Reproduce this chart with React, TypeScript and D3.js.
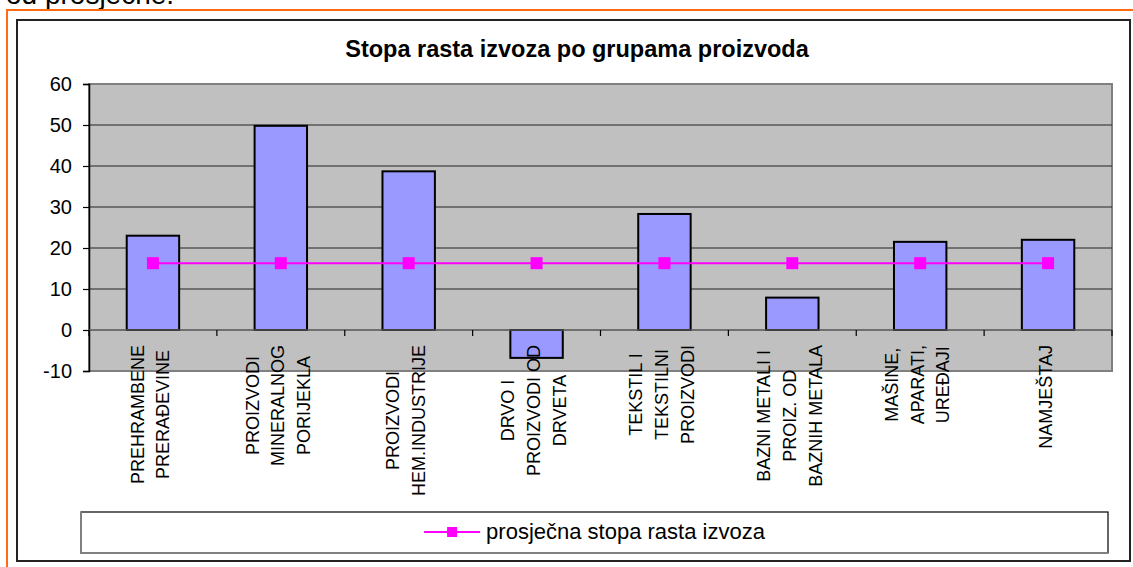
import { useEffect, useRef } from "react";
import * as d3 from "d3";

const categories = [
  ["PREHRAMBENE", "PRERAĐEVINE"],
  ["PROIZVODI", "MINERALNOG", "PORIJEKLA"],
  ["PROIZVODI", "HEM.INDUSTRIJE"],
  ["DRVO I", "PROIZVODI OD", "DRVETA"],
  ["TEKSTIL I", "TEKSTILNI", "PROIZVODI"],
  ["BAZNI METALI I", "PROIZ. OD", "BAZNIH METALA"],
  ["MAŠINE,", "APARATI,", "UREĐAJI"],
  ["NAMJEŠTAJ"],
];
const growth = [23.0, 49.8, 38.7, -6.8, 28.3, 7.9, 21.5, 22.0];
const average = [16.3, 16.3, 16.3, 16.3, 16.3, 16.3, 16.3, 16.3];
const yTicks = [-10, 0, 10, 20, 30, 40, 50, 60];
const title = "Stopa rasta izvoza po grupama proizvoda";
const legendLabel = "prosječna stopa rasta izvoza";

export default function App() {
  const svgRef = useRef(null);

  useEffect(() => {
    const width = 1133;
    const height = 567;
    const plot = { left: 89, right: 1112, top: 84, bottom: 371 };
    const font = "'Liberation Sans', Arial, sans-serif";

    const svg = d3.select(svgRef.current);
    svg.selectAll("*").remove();
    svg.attr("width", width).attr("height", height);

    // page text cut off at the top
    svg.append("text")
      .attr("x", 6).attr("y", 4)
      .attr("font-family", font).attr("font-size", 28)
      .text("od prosječne.");

    // orange document frame
    svg.append("path")
      .attr("d", `M7,${height + 5}V10H${width + 5}`)
      .attr("fill", "none").attr("stroke", "#ff6a13").attr("stroke-width", 2);

    // chart frame
    svg.append("rect")
      .attr("x", 17).attr("y", 20).attr("width", 1113).attr("height", 541)
      .attr("fill", "#fff").attr("stroke", "#222").attr("stroke-width", 2);

    svg.append("text")
      .attr("x", 577).attr("y", 57)
      .attr("text-anchor", "middle")
      .attr("font-family", font).attr("font-size", 23.5).attr("font-weight", "bold")
      .text(title);

    const keys = categories.map((_, i) => String(i));
    const x = d3.scaleBand().domain(keys).range([plot.left, plot.right]).padding(0);
    const y = d3.scaleLinear().domain([-10, 60]).range([plot.bottom, plot.top]);
    const barW = x.bandwidth() * 0.41;
    const cx = (i: number) => x(String(i))! + x.bandwidth() / 2;

    svg.append("rect")
      .attr("x", plot.left).attr("y", plot.top)
      .attr("width", plot.right - plot.left).attr("height", plot.bottom - plot.top)
      .attr("fill", "#c0c0c0").attr("stroke", "#808080").attr("stroke-width", 2);

    svg.append("g")
      .selectAll("line")
      .data(yTicks.filter(t => t !== 0 && t !== 60 && t !== -10))
      .join("line")
      .attr("x1", plot.left).attr("x2", plot.right)
      .attr("y1", d => y(d)).attr("y2", d => y(d))
      .attr("stroke", "#222").attr("stroke-width", 1.2);

    // y axis (plain hyphen for negatives, as in the original)
    const yAxis = svg.append("g").attr("transform", `translate(${plot.left},0)`)
      .call(d3.axisLeft(y).tickValues(yTicks).tickFormat(d => String(d)).tickSize(6).tickPadding(11));
    yAxis.select(".domain").attr("stroke", "#000").attr("stroke-width", 1.5);
    yAxis.selectAll(".tick line").attr("stroke", "#000").attr("stroke-width", 1.2);
    yAxis.selectAll("text")
      .attr("font-family", font).attr("font-size", 20).attr("fill", "#000");

    // bars
    svg.append("g")
      .selectAll("rect")
      .data(growth)
      .join("rect")
      .attr("x", (_, i) => cx(i) - barW / 2)
      .attr("width", barW)
      .attr("y", d => y(Math.max(0, d)))
      .attr("height", d => Math.abs(y(d) - y(0)))
      .attr("fill", "#9999ff").attr("stroke", "#000").attr("stroke-width", 2);

    // category axis at zero
    svg.append("line")
      .attr("x1", plot.left).attr("x2", plot.right)
      .attr("y1", y(0)).attr("y2", y(0))
      .attr("stroke", "#555").attr("stroke-width", 1.5);
    svg.append("g")
      .selectAll("line")
      .data(d3.range(categories.length + 1))
      .join("line")
      .attr("x1", i => plot.left + i * x.step()).attr("x2", i => plot.left + i * x.step())
      .attr("y1", y(0)).attr("y2", y(0) + 6)
      .attr("stroke", "#000").attr("stroke-width", 1.2);

    // rotated category labels
    const labels = svg.append("g")
      .selectAll("g")
      .data(categories)
      .join("g")
      .attr("transform", (_, i) => `translate(${cx(i) - 3},345) rotate(-90)`);
    labels.each(function (lines) {
      const g = d3.select(this);
      const n = lines.length;
      const texts = g.selectAll("text")
        .data(lines)
        .join("text")
        .attr("y", (_, j) => (j - (n - 1) / 2) * 25.7 + 6.5)
        .attr("text-anchor", "middle")
        .attr("font-family", font).attr("font-size", 18)
        .text(d => d);
      let maxLen = 0;
      texts.each(function () {
        maxLen = Math.max(maxLen, (this as SVGTextElement).getComputedTextLength());
      });
      texts.attr("x", -maxLen / 2);
    });

    // average line
    const line = d3.line<number>()
      .x((_, i) => cx(i))
      .y(d => y(d));
    svg.append("path")
      .datum(average)
      .attr("fill", "none").attr("stroke", "#ff00ff").attr("stroke-width", 2)
      .attr("d", line);
    svg.append("g")
      .selectAll("rect")
      .data(average)
      .join("rect")
      .attr("x", (_, i) => cx(i) - 6).attr("y", d => y(d) - 6)
      .attr("width", 12).attr("height", 12)
      .attr("fill", "#ff00ff");

    // legend
    const lg = svg.append("g");
    lg.append("rect")
      .attr("x", 81).attr("y", 512).attr("width", 1027).attr("height", 41)
      .attr("fill", "#fff").attr("stroke", "#000").attr("stroke-width", 1.2);
    lg.append("path")
      .attr("d", "M81,512V553H1108")
      .attr("fill", "none").attr("stroke", "#808080").attr("stroke-width", 2);
    const lt = lg.append("text")
      .attr("y", 539)
      .attr("font-family", font).attr("font-size", 22)
      .text(legendLabel);
    const tLen = (lt.node() as SVGTextElement).getComputedTextLength();
    const start = (81 + 1108) / 2 - (62 + tLen) / 2;
    lt.attr("x", start + 62);
    lg.append("line")
      .attr("x1", start).attr("x2", start + 56)
      .attr("y1", 532).attr("y2", 532)
      .attr("stroke", "#ff00ff").attr("stroke-width", 2);
    lg.append("rect")
      .attr("x", start + 28 - 5).attr("y", 527)
      .attr("width", 10).attr("height", 10)
      .attr("fill", "#ff00ff");
  }, []);

  return (
    <svg ref={svgRef} style={{ position: "absolute", left: 0, top: 0, background: "#fff" }}></svg>
  );
}
